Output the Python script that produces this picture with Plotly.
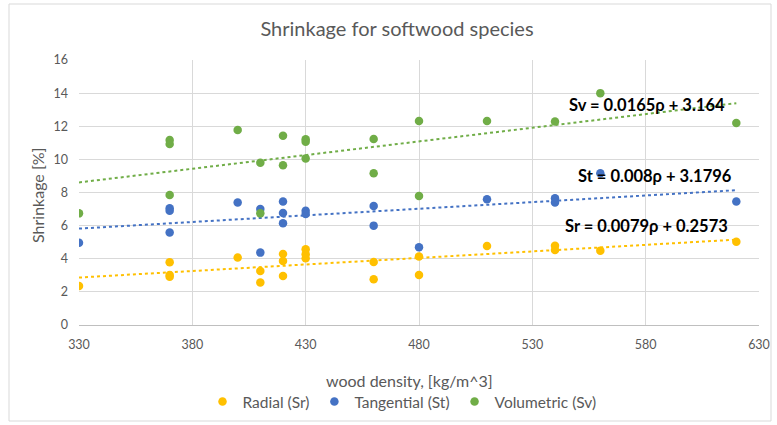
import plotly.graph_objects as go

# Wood density [kg/m^3] and measured shrinkage [%] per direction
radial_density = [330, 370, 370, 370, 400, 410, 410, 420, 420, 420, 430, 430, 430,
                  460, 460, 480, 480, 510, 540, 540, 560, 620]
radial_shrink = [2.36, 3.79, 2.92, 3.02, 4.07, 3.26, 2.56, 4.29, 3.86, 2.96, 4.57, 4.27, 4.03,
                 3.80, 2.76, 4.13, 3.02, 4.77, 4.79, 4.53, 4.49, 5.03]

tangential_density = [330, 370, 370, 370, 400, 410, 410, 420, 420, 420, 430, 430,
                      460, 460, 480, 510, 540, 540, 560, 620]
tangential_shrink = [4.97, 7.05, 6.90, 5.58, 7.39, 7.00, 4.37, 7.45, 6.76, 6.14, 6.90, 6.70,
                     7.19, 6.00, 4.69, 7.59, 7.65, 7.39, 9.16, 7.45]

volumetric_density = [330, 370, 370, 370, 400, 410, 410, 420, 420, 430, 430, 430,
                      460, 460, 480, 480, 510, 540, 560, 620]
volumetric_shrink = [6.74, 11.17, 10.93, 7.85, 11.78, 9.80, 6.74, 11.43, 9.64, 11.21, 11.07, 10.06,
                     11.23, 9.16, 12.32, 7.79, 12.32, 12.28, 14.00, 12.20]

# Linear trend coefficients (slope, intercept)
trend_radial = (0.0079, 0.2573)
trend_tangential = (0.008, 3.1796)
trend_volumetric = (0.0165, 3.164)

series_names = ["Radial (Sr)", "Tangential (St)", "Volumetric (Sv)"]
equation_labels = ["Sr = 0.0079ρ + 0.2573", "St = 0.008ρ + 3.1796", "Sv = 0.0165ρ + 3.164"]
x_ticks = [330, 380, 430, 480, 530, 580, 630]
y_ticks = [0, 2, 4, 6, 8, 10, 12, 14, 16]

colors = ["#FFC000", "#4472C4", "#70AD47"]
FONT = "Lato"
GREY = "#595959"

W, H = 777, 425
L, R, T, B = 79, 18, 60, 100
PW, PH = W - L - R, H - T - B

fig = go.Figure()

series = [
    (radial_density, radial_shrink, trend_radial),
    (tangential_density, tangential_shrink, trend_tangential),
    (volumetric_density, volumetric_shrink, trend_volumetric),
]

# trend lines first so the markers sit on top
for (xs, ys, (a, b)), c in zip(series, colors):
    x0, x1 = min(xs), max(xs)
    fig.add_trace(go.Scatter(
        x=[x0, x1], y=[a * x0 + b, a * x1 + b], mode="lines",
        line=dict(color=c, width=2, dash="dot"), showlegend=False, hoverinfo="skip"))

for (xs, ys, _), c, name in zip(series, colors, series_names):
    fig.add_trace(go.Scatter(
        x=xs, y=ys, mode="markers", name=name,
        marker=dict(color=c, size=8.5, line=dict(width=0))))

# equation labels beside each trend line
eq_pos = [(580.5, 5.95), (584, 8.97), (580.5, 13.3)]
for (ex, ey), txt in zip(eq_pos, equation_labels):
    fig.add_annotation(x=ex, y=ey, xref="x", yref="y", text="<b>" + txt + "</b>",
                       showarrow=False, font=dict(family=FONT, size=16.5, color="#000000"),
                       xanchor="center", yanchor="middle")

# axis titles
fig.add_annotation(x=(409 - L) / PW, y=(T + PH - 380) / PH, xref="paper", yref="paper",
                   text="wood density, [kg/m^3]", showarrow=False,
                   font=dict(family=FONT, size=16, color=GREY),
                   xanchor="center", yanchor="middle")
fig.add_annotation(x=(37 - L) / PW, y=(T + PH - 195) / PH, xref="paper", yref="paper",
                   text="Shrinkage [%]", showarrow=False, textangle=-90,
                   font=dict(family=FONT, size=16, color=GREY),
                   xanchor="center", yanchor="middle")

# outer chart border
fig.add_shape(type="rect", xref="paper", yref="paper",
              x0=(9 - L) / PW, x1=(771 - L) / PW,
              y0=(T + PH - 421) / PH, y1=(T + PH - 4) / PH,
              line=dict(color="#D9D9D9", width=1), fillcolor="rgba(0,0,0,0)", layer="below")

fig.update_layout(
    width=W, height=H,
    margin=dict(l=L, r=R, t=T, b=B, autoexpand=False),
    paper_bgcolor="white", plot_bgcolor="white",
    title=dict(text="Shrinkage for softwood species", x=397 / W, xanchor="center",
               y=1 - 29 / H, yanchor="middle",
               font=dict(family=FONT, size=20, color=GREY)),
    font=dict(family=FONT, color=GREY),
    showlegend=True,
    legend=dict(orientation="h", xref="container", yref="container",
                x=402 / W, xanchor="center", y=1 - 402 / H, yanchor="middle",
                font=dict(family=FONT, size=15.5, color=GREY),
                itemwidth=30, bgcolor="rgba(0,0,0,0)", tracegroupgap=0),
    xaxis=dict(range=[330, 630], tickvals=x_ticks, showgrid=True, gridcolor="#D9D9D9",
               gridwidth=1, zeroline=False, showline=True, linecolor="#BFBFBF",
               tickfont=dict(family=FONT, size=12.5, color=GREY), ticks="",
               ticklabelstandoff=8),
    yaxis=dict(range=[0, 16], tickvals=y_ticks, showgrid=True, gridcolor="#D9D9D9",
               gridwidth=1, zeroline=False, showline=False,
               tickfont=dict(family=FONT, size=12.5, color=GREY), ticks="",
               ticklabelstandoff=10),
)

fig.write_html("out.html")
